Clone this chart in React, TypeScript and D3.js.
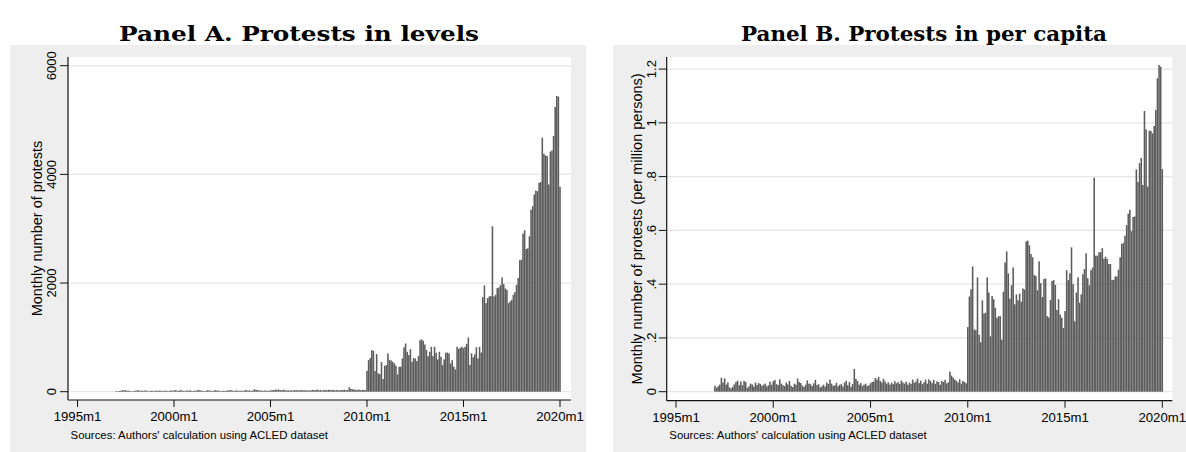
import React from "react";
import * as d3 from "d3";

// Month index t counts months since 1995m1 (t=0). Data start at 1997m1 (t=24), end at 2020m1 (t=300).
const startMonth = 24;

// Panel A: monthly number of protests (levels)
const levels1997to2009 = [
  12, 8, 14, 18, 30, 22, 28, 16, 20, 10, 8, 12,
  18, 24, 26, 14, 22, 14, 24, 20, 8, 12, 18, 16,
  12, 20, 16, 20, 18, 14, 16, 20, 12, 14, 24, 16,
  24, 28, 18, 16, 30, 20, 16, 14, 22, 18, 26, 14,
  12, 20, 18, 32, 24, 22, 14, 12, 18, 28, 20, 18,
  14, 22, 30, 18, 20, 12, 14, 18, 14, 24, 20, 32,
  22, 16, 18, 24, 14, 18, 20, 14, 24, 30, 18, 26,
  14, 22, 44, 34, 30, 20, 24, 16, 20, 22, 16, 18,
  24, 28, 30, 38, 34, 40, 30, 26, 36, 28, 22, 26,
  20, 26, 22, 30, 24, 28, 22, 32, 26, 24, 28, 20,
  26, 22, 34, 26, 30, 38, 24, 32, 22, 28, 34, 24,
  36, 32, 26, 34, 24, 30, 28, 22, 32, 30, 36, 26,
  30, 80, 52, 46, 40, 34, 30, 40, 26, 34, 30, 28,
];
const levels2010to2020 = [
  385, 581, 618, 765, 752, 380, 692, 337, 325, 545, 233, 477,
  490, 704, 581, 575, 551, 520, 477, 318, 459, 459, 612, 814,
  887, 734, 673, 783, 551, 618, 612, 563, 655, 948, 961, 936,
  869, 765, 655, 734, 826, 655, 826, 716, 594, 734, 643, 490,
  594, 716, 722, 704, 520, 581, 459, 411, 826, 790, 808, 826,
  800, 826, 880, 998, 490, 707, 633, 689, 818, 612, 826, 720,
  1740, 1956, 1630, 1722, 1753, 1760, 3044, 1753, 1784, 1907, 1919, 1960,
  2103, 1980, 1900, 1876, 1630, 1660, 1691, 1784, 1833, 1968, 2091, 2420,
  2429, 2909, 2970, 2626, 2640, 2860, 3350, 3413, 3628, 3702, 3690, 3844,
  3860, 4674, 4379, 4348, 4340, 3813, 4420, 4440, 4705, 5240, 5443, 5430,
  3770,
];

// Panel B: monthly number of protests per million persons
const perCapita1997to2009 = [
  0.022, 0.015, 0.020, 0.026, 0.052, 0.034, 0.050, 0.026, 0.034, 0.016, 0.012, 0.018,
  0.027, 0.036, 0.041, 0.024, 0.038, 0.024, 0.040, 0.036, 0.014, 0.020, 0.030, 0.027,
  0.019, 0.034, 0.025, 0.032, 0.029, 0.022, 0.026, 0.030, 0.020, 0.024, 0.037, 0.026,
  0.039, 0.044, 0.028, 0.025, 0.046, 0.030, 0.024, 0.021, 0.034, 0.027, 0.040, 0.022,
  0.017, 0.030, 0.026, 0.049, 0.036, 0.032, 0.022, 0.018, 0.026, 0.042, 0.030, 0.028,
  0.021, 0.031, 0.044, 0.025, 0.028, 0.016, 0.020, 0.026, 0.019, 0.034, 0.029, 0.045,
  0.030, 0.022, 0.024, 0.033, 0.020, 0.026, 0.028, 0.019, 0.034, 0.041, 0.024, 0.036,
  0.018, 0.029, 0.085, 0.048, 0.040, 0.026, 0.032, 0.021, 0.026, 0.030, 0.021, 0.024,
  0.031, 0.036, 0.038, 0.051, 0.045, 0.055, 0.040, 0.034, 0.048, 0.038, 0.030, 0.035,
  0.026, 0.034, 0.028, 0.039, 0.031, 0.036, 0.029, 0.041, 0.034, 0.030, 0.037, 0.026,
  0.034, 0.029, 0.045, 0.033, 0.038, 0.049, 0.032, 0.041, 0.028, 0.035, 0.045, 0.030,
  0.046, 0.040, 0.032, 0.044, 0.029, 0.038, 0.036, 0.026, 0.040, 0.036, 0.044, 0.031,
  0.035, 0.075, 0.060, 0.052, 0.045, 0.040, 0.034, 0.046, 0.030, 0.040, 0.036, 0.031,
];
const perCapita2010to2020 = [
  0.240, 0.354, 0.381, 0.466, 0.231, 0.229, 0.425, 0.212, 0.184, 0.340, 0.291, 0.294,
  0.425, 0.369, 0.206, 0.356, 0.344, 0.312, 0.275, 0.281, 0.281, 0.194, 0.372, 0.481,
  0.522, 0.440, 0.346, 0.396, 0.462, 0.325, 0.362, 0.340, 0.365, 0.335, 0.384, 0.380,
  0.559, 0.562, 0.544, 0.512, 0.500, 0.434, 0.430, 0.377, 0.485, 0.404, 0.352, 0.419,
  0.421, 0.281, 0.276, 0.341, 0.412, 0.415, 0.397, 0.304, 0.344, 0.287, 0.275, 0.237,
  0.300, 0.452, 0.415, 0.440, 0.537, 0.400, 0.262, 0.369, 0.425, 0.331, 0.362, 0.437,
  0.456, 0.515, 0.422, 0.396, 0.452, 0.462, 0.796, 0.506, 0.506, 0.519, 0.519, 0.534,
  0.494, 0.502, 0.494, 0.475, 0.475, 0.416, 0.416, 0.429, 0.429, 0.454, 0.500, 0.550,
  0.554, 0.580, 0.620, 0.662, 0.677, 0.597, 0.650, 0.652, 0.827, 0.780, 0.850, 0.869,
  0.769, 1.044, 0.976, 0.763, 0.971, 0.970, 0.961, 0.988, 1.048, 1.166, 1.215, 1.209,
  0.828,
];

const xTickMonths = [0, 60, 120, 180, 240, 300];
const xTickLabels = ["1995m1", "2000m1", "2005m1", "2010m1", "2015m1", "2020m1"];
const levelTicks = [0, 2000, 4000, 6000];
const levelTickLabels = ["0", "2000", "4000", "6000"];
const perCapitaTicks = [0, 0.2, 0.4, 0.6, 0.8, 1, 1.2];
const perCapitaTickLabels = ["0", ".2", ".4", ".6", ".8", "1", "1.2"];

const titleA = "Panel A. Protests in levels";
const titleB = "Panel B. Protests in per capita";
const yTitleA = "Monthly number of protests";
const yTitleB = "Monthly number of protests (per million persons)";
const sourceNote = "Sources: Authors' calculation using ACLED dataset";

const SANS = "'Liberation Sans', Arial, Helvetica, sans-serif";
const SERIF = "'DejaVu Serif', 'Liberation Serif', serif";

type PanelProps = {
  values: number[];
  box: [number, number, number, number];
  plot: { left: number; right: number; top: number; bottom: number };
  xRange: [number, number];
  yDomain: [number, number];
  yRange: [number, number];
  yTicks: number[];
  yTickLabels: string[];
  yTickLabelX: number;
  yTitle: string;
  yTitleX: number;
  title: string;
  titleX: number;
  titleWidth: number;
};

function Panel(p: PanelProps) {
  const x = d3.scaleLinear().domain([0, 300]).range(p.xRange);
  const y = d3.scaleLinear().domain(p.yDomain).range(p.yRange);
  const step = x(1) - x(0);
  const bw = step * 0.96;
  const yMid = (p.plot.top + p.plot.bottom) / 2;
  return (
    <g>
      <rect x={p.box[0]} y={p.box[1]} width={p.box[2] - p.box[0]} height={p.box[3] - p.box[1]} fill="#eeeeee" />
      <rect x={p.plot.left} y={p.plot.top} width={p.plot.right - p.plot.left} height={p.plot.bottom - p.plot.top} fill="#ffffff" />
      <text
        x={p.titleX - p.titleWidth / 2}
        y={41}
        textLength={p.titleWidth}
        lengthAdjust="spacingAndGlyphs"
        fontFamily={SERIF}
        fontWeight="bold"
        fontSize={21}
        fill="#000"
      >
        {p.title}
      </text>
      {p.yTicks.map((t, i) => (
        <line key={"g" + i} x1={p.plot.left} x2={p.plot.right} y1={y(t)} y2={y(t)} stroke="#e6e6e6" strokeWidth={1.2} />
      ))}
      {p.values.map((v, i) => {
        const t = startMonth + i;
        const top = y(v);
        return (
          <rect key={"b" + i} x={x(t) - bw / 2} y={top} width={bw} height={Math.max(0, y(0) - top)} fill="#5c5c5c" />
        );
      })}
      <line x1={p.plot.left} x2={p.plot.left} y1={p.plot.top} y2={p.plot.bottom} stroke="#111" strokeWidth={1.2} />
      <line x1={p.plot.left} x2={p.plot.right} y1={p.plot.bottom} y2={p.plot.bottom} stroke="#111" strokeWidth={1.2} />
      {p.yTicks.map((t, i) => (
        <g key={"yt" + i}>
          <line x1={p.plot.left - 8} x2={p.plot.left} y1={y(t)} y2={y(t)} stroke="#111" strokeWidth={1} />
          <text
            x={p.yTickLabelX}
            y={y(t)}
            transform={`rotate(-90, ${p.yTickLabelX}, ${y(t)})`}
            textAnchor="middle"
            fontFamily={SANS}
            fontSize={13}
            fill="#000"
          >
            {p.yTickLabels[i]}
          </text>
        </g>
      ))}
      {xTickMonths.map((m, i) => (
        <g key={"xt" + i}>
          <line x1={x(m)} x2={x(m)} y1={p.plot.bottom} y2={p.plot.bottom + 7} stroke="#111" strokeWidth={1} />
          <text x={x(m)} y={p.plot.bottom + 21} textAnchor="middle" fontFamily={SANS} fontSize={13.2} fill="#000">
            {xTickLabels[i]}
          </text>
        </g>
      ))}
      <text
        x={p.yTitleX}
        y={yMid}
        transform={`rotate(-90, ${p.yTitleX}, ${yMid})`}
        textAnchor="middle"
        fontFamily={SANS}
        fontSize={14.5}
        fill="#000"
      >
        {p.yTitle}
      </text>
      <text x={p.plot.left + 2.6} y={438.5} fontFamily={SANS} fontSize={11.4} fill="#000">
        {sourceNote}
      </text>
    </g>
  );
}

export default function App() {
  const levels = [...levels1997to2009, ...levels2010to2020];
  const perCapita = [...perCapita1997to2009, ...perCapita2010to2020];
  return (
    <svg width={1186} height={452} style={{ position: "absolute", left: 0, top: 0, background: "#fff" }}>
      <Panel
        values={levels}
        box={[10, 45, 586, 452]}
        plot={{ left: 68, right: 571, top: 57, bottom: 400 }}
        xRange={[77.5, 560]}
        yDomain={[0, 6000]}
        yRange={[391.7, 65.7]}
        yTicks={levelTicks}
        yTickLabels={levelTickLabels}
        yTickLabelX={56}
        yTitle={yTitleA}
        yTitleX={42}
        title={titleA}
        titleX={299}
        titleWidth={360}
      />
      <Panel
        values={perCapita}
        box={[613, 45, 1187, 452]}
        plot={{ left: 666.7, right: 1172.3, top: 57, bottom: 400.7 }}
        xRange={[676, 1162.3]}
        yDomain={[0, 1.2]}
        yRange={[391.7, 69.1]}
        yTicks={perCapitaTicks}
        yTickLabels={perCapitaTickLabels}
        yTickLabelX={656.5}
        yTitle={yTitleB}
        yTitleX={642.5}
        title={titleB}
        titleX={924}
        titleWidth={366}
      />
    </svg>
  );
}
